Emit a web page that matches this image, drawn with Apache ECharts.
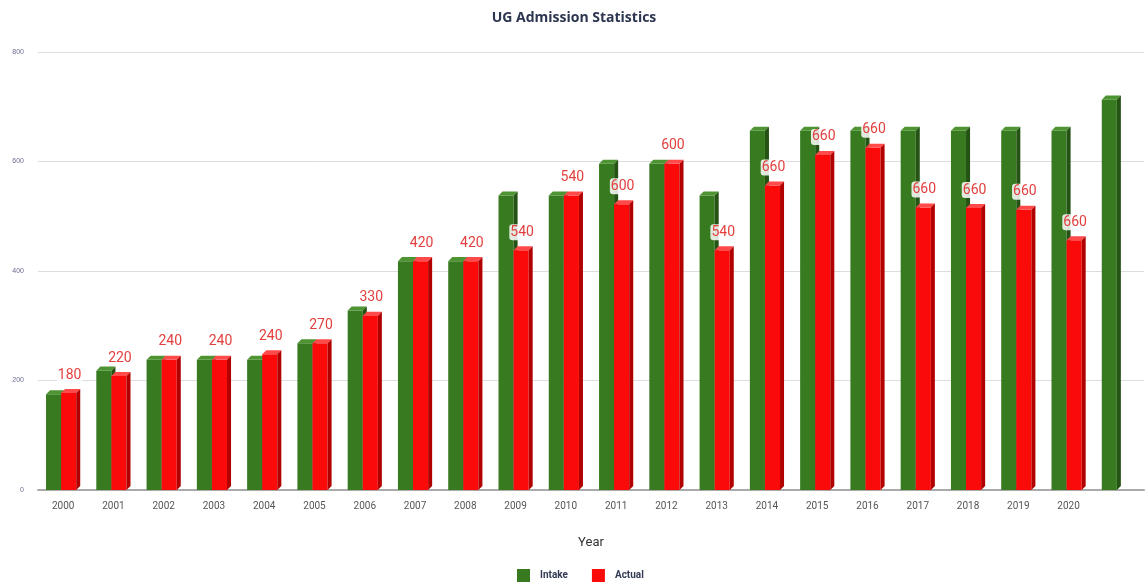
<!DOCTYPE html>
<html>
<head>
<meta charset="utf-8">
<script src="https://cdn.jsdelivr.net/npm/echarts@6/dist/echarts.min.js"></script>
<style>
html,body{margin:0;padding:0;background:#fff;}
#main{width:1148px;height:585px;}
</style>
</head>
<body>
<div id="main"></div>
<script>
const years = ['2000','2001','2002','2003','2004','2005','2006','2007','2008','2009','2010','2011','2012','2013','2014','2015','2016','2017','2018','2019','2020',''];
const intake = [175,218,238,238,238,268,328,418,418,538,538,596,596,538,656,656,656,656,656,656,656,713];
const actual = [177,208,238,238,248,268,318,418,418,438,538,522,596,438,556,612,625,516,515,512,456];
const labelValues = ['180','220','240','240','240','270','330','420','420','540','540','600','600','540','660','660','660','660','660','660','660'];
const yTicks = {min:0, max:800, interval:200};

const palettes = [
  {front:'#377a1f', top:'#4f9433', side:'#245314'},
  {front:'#fb0a0a', top:'#ff4a4a', side:'#b20000'}
];

function makeRender(sIdx){
  return function(params, api){
    const i = api.value(0), v = api.value(1);
    const base = api.coord([i,0]);
    const top = api.coord([i,v]);
    const band = api.size([1,0])[0];
    const w = band*0.3, d = band*0.08;
    const off = sIdx===0 ? -band*0.34 : -band*0.04;
    const x0 = base[0]+off, x1 = x0+w;
    const p = palettes[sIdx];
    const children = [
      {type:'rect', shape:{x:x0, y:top[1], width:w, height:base[1]-top[1]}, style:{fill:p.front}},
      {type:'polygon', shape:{points:[[x0,top[1]],[x0+d,top[1]-d],[x1+d,top[1]-d],[x1,top[1]]]}, style:{fill:p.top}},
      {type:'polygon', shape:{points:[[x1,top[1]],[x1+d,top[1]-d],[x1+d,base[1]-d],[x1,base[1]]]}, style:{fill:p.side}}
    ];
    if(sIdx===1 && labelValues[params.dataIndex] !== undefined){
      children.push({type:'text', z2:10, style:{
        x:x0+w/2+1, y:top[1]-d-6, text:labelValues[params.dataIndex],
        align:'center', verticalAlign:'bottom',
        fill:'#e2403f', font:'14px Roboto, sans-serif',
        backgroundColor:'rgba(255,255,255,0.85)', borderRadius:3, padding:[1,1]
      }});
    }
    return {type:'group', children:children};
  };
}

const chart = echarts.init(document.getElementById('main'));
chart.setOption({
  animation:false,
  backgroundColor:'#fff',
  title:{text:'UG Admission Statistics', left:'center', top:6,
    textStyle:{fontFamily:'Open Sans', fontWeight:'bold', fontSize:14, color:'#2b3550'}},
  legend:{bottom:-2, left:512, itemWidth:13, itemHeight:13, itemGap:24,
    data:[{name:'Intake', icon:'rect'},{name:'Actual', icon:'rect'}],
    textStyle:{fontSize:10, fontWeight:'bold', color:'#333a55', fontFamily:'Roboto', padding:[0,0,0,5]}},
  grid:{left:38, right:4, top:52, bottom:95},
  xAxis:{type:'category', data:years, name:'Year', nameLocation:'middle', nameGap:46,
    nameTextStyle:{fontSize:13, color:'#333', fontFamily:'Roboto'},
    axisTick:{show:false},
    axisLine:{lineStyle:{color:'#aaaaaa', width:2}},
    axisLabel:{fontSize:10, color:'#555', margin:11, fontFamily:'Roboto'}},
  yAxis:{type:'value', min:yTicks.min, max:yTicks.max, interval:yTicks.interval,
    axisLabel:{fontSize:7, color:'#6a6a90', margin:14},
    splitLine:{lineStyle:{color:'#dddddd'}}},
  series:[
    {name:'Intake', type:'custom', renderItem:makeRender(0), itemStyle:{color:palettes[0].front},
      encode:{x:0,y:1}, data:intake.map((v,i)=>[i,v])},
    {name:'Actual', type:'custom', renderItem:makeRender(1), itemStyle:{color:palettes[1].front},
      encode:{x:0,y:1}, data:actual.map((v,i)=>[i,v])}
  ]
});
</script>
</body>
</html>
